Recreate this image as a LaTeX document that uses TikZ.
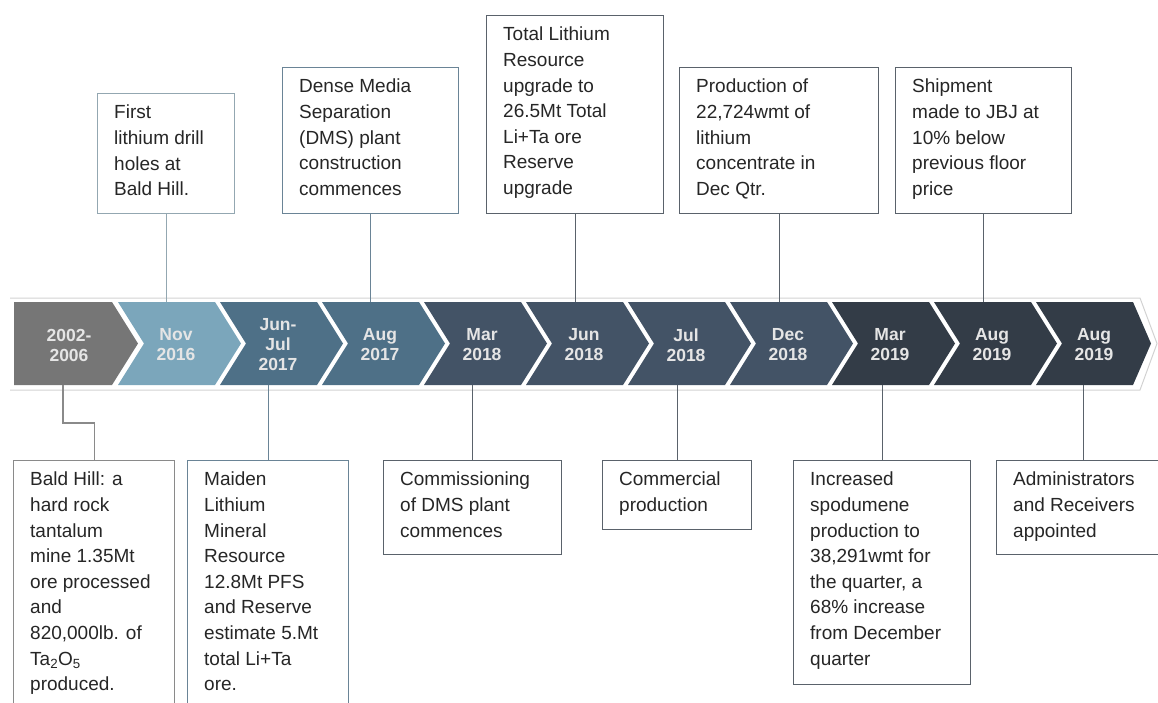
\documentclass[tikz,border=0pt]{standalone}
\usepackage{fontspec}
\setmainfont{Liberation Sans}
\definecolor{cgray}{HTML}{767676}
\definecolor{clight}{HTML}{7BA6BB}
\definecolor{csteel}{HTML}{4E7087}
\definecolor{cslate}{HTML}{435366}
\definecolor{cdark}{HTML}{333C47}
\definecolor{ctext}{HTML}{262626}
\definecolor{cband}{HTML}{D2D2D2}
\definecolor{lgray}{HTML}{8A8A8A}
\definecolor{llight}{HTML}{93A7B1}
\definecolor{lsteel}{HTML}{6A8496}
\definecolor{ldark}{HTML}{5A626B}
\tikzset{
  chevtext/.style={font=\bfseries\fontsize{17.5}{20}\selectfont, text=white!90!black, align=center, inner sep=0},
  evbox/.style={draw, line width=1.2pt, fill=white, inner sep=0, anchor=north west},
  evtext/.style={anchor=north west, inner sep=0, align=left, text=ctext,
     font=\fontsize{19}{25.6}\selectfont, execute at begin node={\rule{0pt}{16pt}}},
  conn/.style={line width=1.2pt},
}
\begin{document}
\begin{tikzpicture}[x=1pt,y=-1pt]
\useasboundingbox (0,0) rectangle (1158,702);
% band outline
\draw[cband, line width=1pt] (10,298) -- (1140,298) -- (1157,343.5) -- (1140,390) -- (10,390);
% chevrons
\fill[cgray] (14,302) -- (112,302) -- (138,343.5) -- (112,385) -- (14,385) -- cycle;
\node[chevtext] (c1) at (69,345) {2002-\\2006};
\foreach \k/\col/\lab in {1/clight/{Nov\\2016}, 2/csteel/{Jun-\\Jul\\2017}, 3/csteel/{Aug\\2017},
   4/cslate/{Mar\\2018}, 5/cslate/{Jun\\2018}, 6/cslate/{Jul\\2018}, 7/cslate/{Dec\\2018},
   8/cdark/{Mar\\2019}, 9/cdark/{Aug\\2019}}{
  \pgfmathsetmacro{\xx}{16+102*\k}
  \fill[\col] (\xx,302) -- ++(97,0) -- ++(26,41.5) -- ++(-26,41.5) -- ++(-97,0) -- ++(26,-41.5) -- cycle;
  \node[chevtext] (c\k) at (\xx+58,345) {\lab};
}
\fill[cdark] (1036,302) -- (1133,302) -- (1151,343.5) -- (1133,385) -- (1036,385) -- (1062,343.5) -- cycle;
\node[chevtext] (c10) at (1094,345) {Aug\\2019};
\coordinate (bt) at (0,302);
\coordinate (bb) at (0,385);
\coordinate (k1) at (63,385);
% top boxes
\node[evbox, draw=llight, minimum width=137, minimum height=120] (t1) at (97,93) {};
\node[evtext] at (t1.north west) [xshift=17pt, yshift=-12pt] {First\\lithium drill\\holes at\\Bald Hill.};
\node[evbox, draw=lsteel, minimum width=176, minimum height=146] (t2) at (282,67) {};
\node[evtext] at (t2.north west) [xshift=17pt, yshift=-12pt] {Dense Media\\Separation\\(DMS) plant\\construction\\commences};
\node[evbox, draw=ldark, minimum width=177, minimum height=198] (t3) at (486,15) {};
\node[evtext] at (t3.north west) [xshift=17pt, yshift=-12pt] {Total Lithium\\Resource\\upgrade to\\26.5Mt Total\\Li+Ta ore\\Reserve\\upgrade};
\node[evbox, draw=ldark, minimum width=199, minimum height=146] (t4) at (679,67) {};
\node[evtext] at (t4.north west) [xshift=17pt, yshift=-12pt] {Production of\\22,724wmt of\\lithium\\concentrate in\\Dec Qtr.};
\node[evbox, draw=ldark, minimum width=176, minimum height=146] (t5) at (895,67) {};
\node[evtext] at (t5.north west) [xshift=17pt, yshift=-12pt] {Shipment\\made to JBJ at\\10\% below\\previous floor\\price};
% bottom boxes
\node[evbox, draw=lgray, minimum width=161, minimum height=260] (b1) at (13,460) {};
\node[evtext] at (b1.north west) [xshift=17pt, yshift=-12pt] {Bald Hill: a\\hard rock\\tantalum\\mine 1.35Mt\\ore processed\\and\\820,000lb. of\\Ta\textsubscript{2}O\textsubscript{5}\\produced.};
\node[evbox, draw=lsteel, minimum width=161, minimum height=260] (b2) at (187,460) {};
\node[evtext] at (b2.north west) [xshift=17pt, yshift=-12pt] {Maiden\\Lithium\\Mineral\\Resource\\12.8Mt PFS\\and Reserve\\estimate 5.Mt\\total Li+Ta\\ore.};
\node[evbox, draw=ldark, minimum width=178, minimum height=94] (b3) at (383,460) {};
\node[evtext] at (b3.north west) [xshift=17pt, yshift=-12pt] {Commissioning\\of DMS plant\\commences};
\node[evbox, draw=ldark, minimum width=149, minimum height=69] (b4) at (602,460) {};
\node[evtext] at (b4.north west) [xshift=17pt, yshift=-12pt] {Commercial\\production};
\node[evbox, draw=ldark, minimum width=177, minimum height=224] (b5) at (793,460) {};
\node[evtext] at (b5.north west) [xshift=17pt, yshift=-12pt] {Increased\\spodumene\\production to\\38,291wmt for\\the quarter, a\\68\% increase\\from December\\quarter};
\node[evbox, draw=ldark, minimum width=174, minimum height=94] (b6) at (996,460) {};
\node[evtext] at (b6.north west) [xshift=17pt, yshift=-12pt] {Administrators\\and Receivers\\appointed};
% connectors
\draw[conn, llight] (t1.south) -- (t1.south |- bt);
\draw[conn, lsteel] (t2.south) -- (t2.south |- bt);
\draw[conn, ldark] (t3.south) -- (t3.south |- bt);
\draw[conn, ldark] (t4.south) -- (t4.south |- bt);
\draw[conn, ldark] (t5.south) -- (t5.south |- bt);
\draw[conn, lgray] (b1.north) -- ++(0,-37) -| (k1);
\draw[conn, lsteel] (b2.north) -- (b2.north |- bb);
\draw[conn, ldark] (b3.north) -- (b3.north |- bb);
\draw[conn, ldark] (b4.north) -- (b4.north |- bb);
\draw[conn, ldark] (b5.north) -- (b5.north |- bb);
\draw[conn, ldark] (b6.north) -- (b6.north |- bb);
\end{tikzpicture}
\end{document}
